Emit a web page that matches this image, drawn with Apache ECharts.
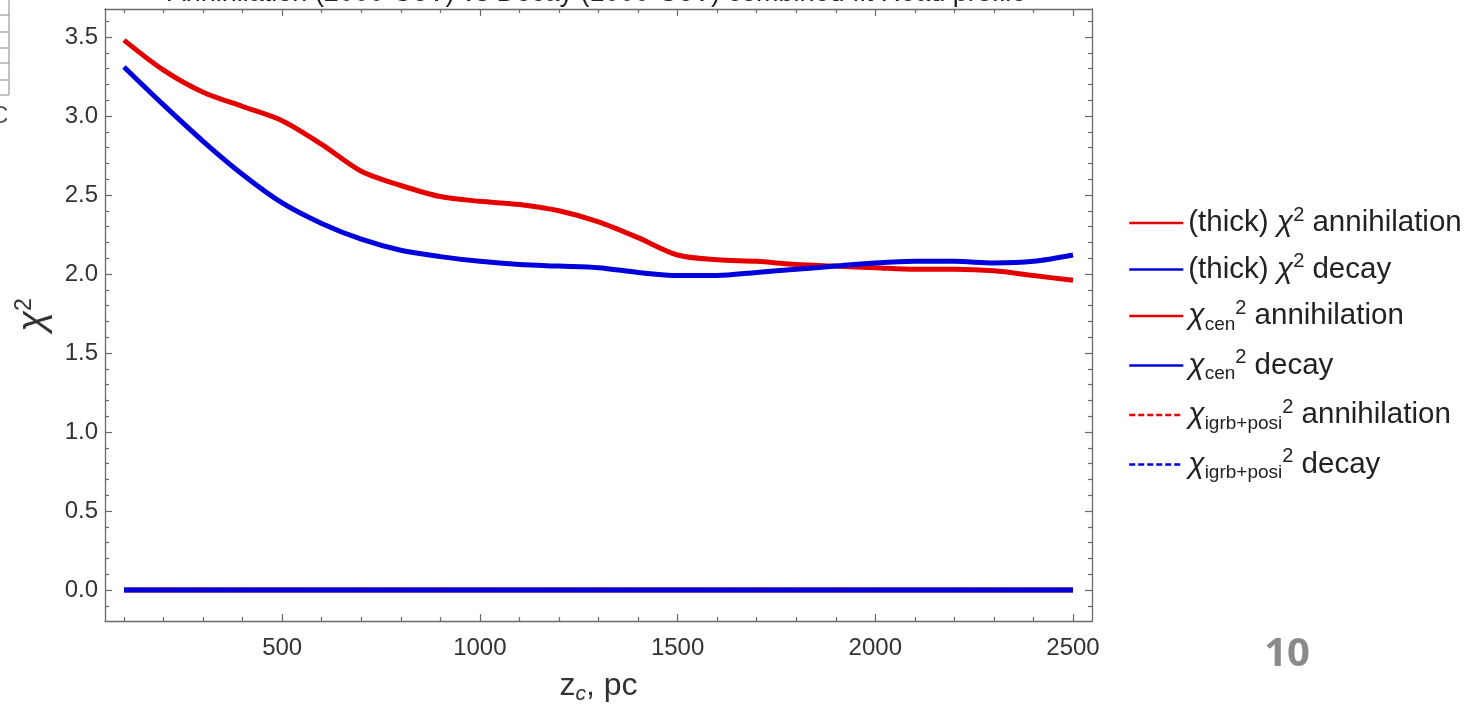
<!DOCTYPE html>
<html>
<head>
<meta charset="utf-8">
<script src="https://cdn.jsdelivr.net/npm/echarts@6/dist/echarts.min.js"></script>
<style>
  html, body { margin: 0; padding: 0; background: #ffffff; }
  #chart { width: 1471px; height: 704px; }
</style>
</head>
<body>
<div id="chart"></div>
<script>
// Sampled scale height z_c (pc)
const zc = [100, 200, 300, 400, 500, 600, 700, 800, 900, 1000, 1100, 1200, 1300,
            1400, 1500, 1600, 1700, 1800, 1900, 2000, 2100, 2200, 2300, 2400, 2500];

// chi^2 of the combined fit (thick disk)
const chiThickAnn = [3.48, 3.29, 3.15, 3.06, 2.97, 2.82, 2.65, 2.56, 2.49, 2.46, 2.44, 2.40, 2.33,
                     2.23, 2.12, 2.09, 2.08, 2.06, 2.05, 2.04, 2.03, 2.03, 2.02, 1.99, 1.96];
const chiThickDec = [3.31, 3.07, 2.84, 2.63, 2.45, 2.32, 2.22, 2.15, 2.11, 2.08, 2.06, 2.05, 2.04,
                     2.01, 1.99, 1.99, 2.01, 2.03, 2.05, 2.07, 2.08, 2.08, 2.07, 2.08, 2.12];
// chi^2 of the central region
const chiCenAnn = [0, 0, 0, 0, 0, 0, 0, 0, 0, 0, 0, 0, 0, 0, 0, 0, 0, 0, 0, 0, 0, 0, 0, 0, 0];
const chiCenDec = [0, 0, 0, 0, 0, 0, 0, 0, 0, 0, 0, 0, 0, 0, 0, 0, 0, 0, 0, 0, 0, 0, 0, 0, 0];
// chi^2 of IGRB + positrons
const chiIgrbAnn = [0, 0, 0, 0, 0, 0, 0, 0, 0, 0, 0, 0, 0, 0, 0, 0, 0, 0, 0, 0, 0, 0, 0, 0, 0];
const chiIgrbDec = [0, 0, 0, 0, 0, 0, 0, 0, 0, 0, 0, 0, 0, 0, 0, 0, 0, 0, 0, 0, 0, 0, 0, 0, 0];

// Tick positions
const xMajorTicks = [500, 1000, 1500, 2000, 2500];
const yMajorTicks = [0, 0.5, 1, 1.5, 2, 2.5, 3, 3.5];
const xMinorTicks = [];
for (let v = 100; v <= 2500; v += 100) if (v % 500 !== 0) xMinorTicks.push(v);
const yMinorTicks = [];
for (let k = -1; k <= 36; k++) if (k % 5 !== 0) yMinorTicks.push(k / 10);

const X_MIN = 52, X_MAX = 2548;
const Y_MIN = -0.196, Y_MAX = 3.677;

const FONT = 'Liberation Sans';
const RED = '#e50000';
const BLUE = '#0000dc';
const FRAME = '#6a6a6a';

const rich = {
  t:   { fontFamily: FONT, fontSize: 29.5, color: '#222', lineHeight: 36 },
  g:   { fontFamily: FONT, fontSize: 30, color: '#222', fontStyle: 'italic', lineHeight: 36 },
  sup: { fontFamily: FONT, fontSize: 20, color: '#222', verticalAlign: 'top', lineHeight: 20 },
  sub: { fontFamily: FONT, fontSize: 19, color: '#222', verticalAlign: 'bottom', lineHeight: 22 }
};

const names = [
  '(thick) χ² annihilation',
  '(thick) χ² decay',
  'χcen² annihilation',
  'χcen² decay',
  'χigrb+posi² annihilation',
  'χigrb+posi² decay'
];
const legendText = {
  [names[0]]: '{t|(thick) }{g|χ}{sup|2}{t| annihilation}',
  [names[1]]: '{t|(thick) }{g|χ}{sup|2}{t| decay}',
  [names[2]]: '{g|χ}{sub|cen}{sup|2}{t| annihilation}',
  [names[3]]: '{g|χ}{sub|cen}{sup|2}{t| decay}',
  [names[4]]: '{g|χ}{sub|igrb+posi}{sup|2}{t| annihilation}',
  [names[5]]: '{g|χ}{sub|igrb+posi}{sup|2}{t| decay}'
};

function pairs(ys) { return zc.map((x, i) => [x, ys[i]]); }

function xAxisDef(position, ticks, len, withLabels, withLine) {
  return {
    type: 'value', position: position, min: X_MIN, max: X_MAX,
    axisLine: { show: withLine, onZero: false, lineStyle: { color: FRAME, width: 1.3 } },
    axisTick: { show: true, inside: true, length: len, customValues: ticks,
                lineStyle: { color: FRAME, width: 1.2 } },
    axisLabel: { show: withLabels, customValues: xMajorTicks, margin: 15,
                 fontFamily: FONT, fontSize: 24, color: '#333',
                 formatter: v => String(v) },
    splitLine: { show: false },
    name: withLabels ? '{it|z}{sc|c}{t|, pc}' : '',
    nameLocation: 'middle', nameGap: 46,
    nameTextStyle: {
      rich: {
        it: { fontFamily: FONT, fontSize: 32, color: '#333', lineHeight: 38 },
        sc: { fontFamily: FONT, fontSize: 21, color: '#333', fontStyle: 'italic', verticalAlign: 'bottom', lineHeight: 24 },
        t:  { fontFamily: FONT, fontSize: 32, color: '#333', lineHeight: 38 }
      }
    }
  };
}

function yAxisDef(position, ticks, len, withLabels, withLine) {
  return {
    type: 'value', position: position, min: Y_MIN, max: Y_MAX,
    axisLine: { show: withLine, onZero: false, lineStyle: { color: FRAME, width: 1.3 } },
    axisTick: { show: true, inside: true, length: len, customValues: ticks,
                lineStyle: { color: FRAME, width: 1.2 } },
    axisLabel: { show: withLabels, customValues: yMajorTicks, margin: 7,
                 fontFamily: FONT, fontSize: 24, color: '#333',
                 formatter: v => v.toFixed(1) },
    splitLine: { show: false },
    name: withLabels ? '{g|χ}{sup|2}' : '',
    nameLocation: 'middle', nameGap: 52, nameRotate: 90,
    nameTextStyle: {
      rich: {
        g:   { fontFamily: FONT, fontSize: 38, color: '#333', fontStyle: 'italic', lineHeight: 40 },
        sup: { fontFamily: FONT, fontSize: 23, color: '#333', verticalAlign: 'top', lineHeight: 22 }
      }
    }
  };
}

function lineSeries(name, ys, color, width, dashed) {
  return {
    name: name, type: 'line', data: pairs(ys),
    xAxisIndex: 0, yAxisIndex: 0,
    smooth: 0.3, symbol: 'none', silent: true,
    lineStyle: { color: color, width: width, type: dashed ? [6, 3] : 'solid' },
    itemStyle: { color: color }
  };
}

const chart = echarts.init(document.getElementById('chart'), null, { renderer: 'canvas' });
chart.setOption({
  animation: false,
  backgroundColor: '#ffffff',
  grid: { left: 105, right: 379, top: 9, bottom: 83, containLabel: false, outerBoundsMode: 'none' },
  xAxis: [
    xAxisDef('bottom', xMajorTicks, 7, true, true),
    xAxisDef('bottom', xMinorTicks, 4, false, false),
    xAxisDef('top', xMajorTicks, 7, false, true),
    xAxisDef('top', xMinorTicks, 4, false, false)
  ],
  yAxis: [
    yAxisDef('left', yMajorTicks, 7, true, true),
    yAxisDef('left', yMinorTicks, 4, false, false),
    yAxisDef('right', yMajorTicks, 7, false, true),
    yAxisDef('right', yMinorTicks, 4, false, false)
  ],
  legend: {
    orient: 'vertical', left: 1123, top: 200,
    itemWidth: 54, itemHeight: 14, itemGap: 13.5,
    data: names,
    selectedMode: false,
    itemStyle: { opacity: 0 },
    lineStyle: { width: 2.5 },
    formatter: n => legendText[n],
    textStyle: { rich: rich }
  },
  series: [
    lineSeries(names[0], chiThickAnn, RED, 5, false),
    lineSeries(names[1], chiThickDec, BLUE, 5, false),
    lineSeries(names[2], chiCenAnn, RED, 5, false),
    lineSeries(names[3], chiCenDec, BLUE, 5, false),
    lineSeries(names[4], chiIgrbAnn, RED, 2, true),
    lineSeries(names[5], chiIgrbDec, BLUE, 2, true)
  ],
  graphic: [
    {
      type: 'text', x: 597, y: -6, silent: true,
      style: { text: 'Annihilation (2000 GeV) vs Decay (1000 GeV) combined fit Read profile',
               fontFamily: FONT, fontSize: 27, fill: '#222',
               align: 'center', verticalAlign: 'middle' }
    },
    {
      type: 'text', x: 1287, y: 655, silent: true,
      style: { text: '10', fontFamily: 'Open Sans', fontWeight: 'bold', fontSize: 40,
               fill: '#8a8a8a', align: 'center', verticalAlign: 'middle' }
    },
    // edge of the neighbouring panel
    { type: 'line', silent: true, shape: { x1: 9, y1: 0, x2: 9, y2: 95 },
      style: { stroke: '#9a9a9a', lineWidth: 1.2 } },
    { type: 'group', silent: true, children: [15, 32, 48, 63, 80, 95].map(y => ({
        type: 'line', shape: { x1: 0, y1: y, x2: 9, y2: y },
        style: { stroke: '#9a9a9a', lineWidth: 1.2 } })) },
    {
      type: 'text', x: -9, y: 116, silent: true,
      style: { text: 'C', fontFamily: FONT, fontSize: 24, fill: '#555',
               align: 'left', verticalAlign: 'middle' }
    }
  ]
});
</script>
</body>
</html>
